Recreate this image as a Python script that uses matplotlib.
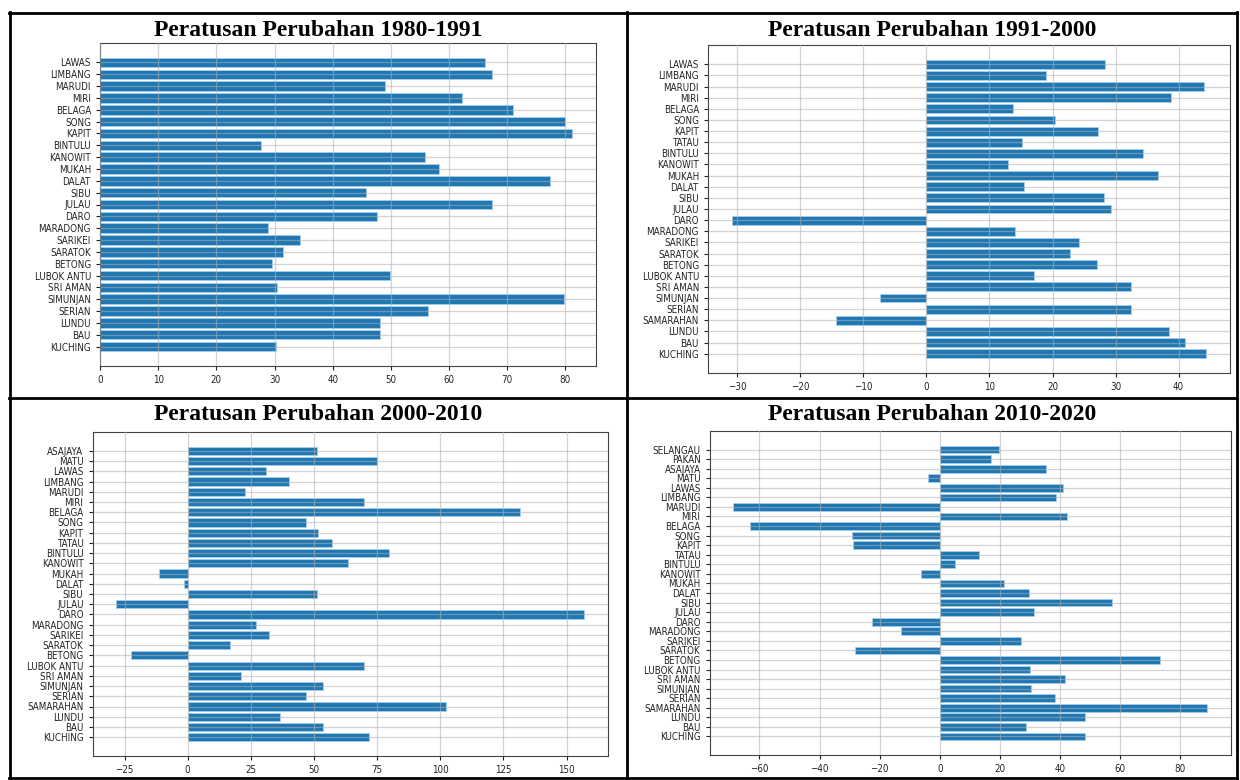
import numpy as np
import matplotlib
matplotlib.use("Agg")
import matplotlib.pyplot as plt
from matplotlib.lines import Line2D
from matplotlib.ticker import MultipleLocator

# data (bottom -> top, as barh draws them)
cat_1980 = ['KUCHING', 'BAU', 'LUNDU', 'SERIAN', 'SIMUNJAN', 'SRI AMAN', 'LUBOK ANTU',
            'BETONG', 'SARATOK', 'SARIKEI', 'MARADONG', 'DARO', 'JULAU', 'SIBU', 'DALAT',
            'MUKAH', 'KANOWIT', 'BINTULU', 'KAPIT', 'SONG', 'BELAGA', 'MIRI', 'MARUDI',
            'LIMBANG', 'LAWAS']
val_1980 = [30.3, 48.1, 48.1, 56.3, 79.8, 30.5, 49.8, 29.5, 31.4, 34.4, 28.8, 47.7, 67.3,
            45.8, 77.3, 58.3, 55.9, 27.6, 81.2, 80.0, 71.0, 62.2, 49.0, 67.3, 66.2]

cat_1991 = ['KUCHING', 'BAU', 'LUNDU', 'SAMARAHAN', 'SERIAN', 'SIMUNJAN', 'SRI AMAN',
            'LUBOK ANTU', 'BETONG', 'SARATOK', 'SARIKEI', 'MARADONG', 'DARO', 'JULAU',
            'SIBU', 'DALAT', 'MUKAH', 'KANOWIT', 'BINTULU', 'TATAU', 'KAPIT', 'SONG',
            'BELAGA', 'MIRI', 'MARUDI', 'LIMBANG', 'LAWAS']
val_1991 = [44.4, 41.1, 38.5, -14.3, 32.5, -7.3, 32.5, 17.1, 27.0, 22.8, 24.2, 14.1, -30.9,
            29.3, 28.1, 15.4, 36.8, 12.9, 34.4, 15.1, 27.2, 20.4, 13.7, 38.8, 44.1, 19.0, 28.4]

cat_2000 = ['KUCHING', 'BAU', 'LUNDU', 'SAMARAHAN', 'SERIAN', 'SIMUNJAN', 'SRI AMAN',
            'LUBOK ANTU', 'BETONG', 'SARATOK', 'SARIKEI', 'MARADONG', 'DARO', 'JULAU',
            'SIBU', 'DALAT', 'MUKAH', 'KANOWIT', 'BINTULU', 'TATAU', 'KAPIT', 'SONG',
            'BELAGA', 'MIRI', 'MARUDI', 'LIMBANG', 'LAWAS', 'MATU', 'ASAJAYA']
val_2000 = [71.8, 53.4, 36.5, 102.3, 46.9, 53.7, 21.0, 69.8, -22.4, 16.7, 32.2, 27.2, 157.0,
            -28.4, 51.0, -1.3, -11.4, 63.5, 79.7, 57.0, 51.6, 46.7, 131.5, 70.0, 22.7, 40.3,
            31.1, 74.8, 51.2]

cat_2010 = ['KUCHING', 'BAU', 'LUNDU', 'SAMARAHAN', 'SERIAN', 'SIMUNJAN', 'SRI AMAN',
            'LUBOK ANTU', 'BETONG', 'SARATOK', 'SARIKEI', 'MARADONG', 'DARO', 'JULAU',
            'SIBU', 'DALAT', 'MUKAH', 'KANOWIT', 'BINTULU', 'TATAU', 'KAPIT', 'SONG',
            'BELAGA', 'MIRI', 'MARUDI', 'LIMBANG', 'LAWAS', 'MATU', 'ASAJAYA', 'PAKAN',
            'SELANGAU']
val_2010 = [48.4, 28.7, 48.3, 89.0, 38.3, 30.3, 41.8, 29.9, 73.2, -28.1, 27.1, -12.9, -22.4,
            31.2, 57.2, 29.6, 21.2, -6.4, 5.2, 12.9, -29.0, -29.2, -63.0, 42.2, -68.7, 38.8,
            40.9, -3.9, 35.3, 17.0, 19.8]

titles = ['Peratusan Perubahan 1980-1991', 'Peratusan Perubahan 1991-2000',
          'Peratusan Perubahan 2000-2010', 'Peratusan Perubahan 2010-2020']

W, H = 1240, 780
fig = plt.figure(figsize=(W / 100, H / 100), dpi=100)


def px_axes(l, t, r, b):
    return fig.add_axes([l / W, 1 - b / H, (r - l) / W, (b - t) / H])


def draw_panel(ax, cats, vals, step):
    ax.barh(cats, vals, color='#1f77b4', edgecolor='#a9cfe8', linewidth=0.6)
    ax.set_axisbelow(False)
    ax.grid(True, color='#b0b0b0', alpha=0.55, linewidth=0.9)
    ax.xaxis.set_major_locator(MultipleLocator(step))
    ax.tick_params(labelsize=7, colors='#222222', length=3)
    for lab in ax.get_yticklabels() + ax.get_xticklabels():
        lab.set_fontstretch('condensed')
    for s in ax.spines.values():
        s.set_color('#444444')


ax1 = px_axes(100, 43, 596, 366)
draw_panel(ax1, cat_1980, val_1980, 10)
ax2 = px_axes(708, 45, 1230, 373)
draw_panel(ax2, cat_1991, val_1991, 10)
ax3 = px_axes(92.5, 432, 607.7, 756)
draw_panel(ax3, cat_2000, val_2000, 25)
ax4 = px_axes(709.6, 431, 1231, 755)
draw_panel(ax4, cat_2010, val_2010, 20)

# titles, centred in each cell
tpos = [(318, 30), (932, 30), (318, 414), (932, 414)]
for (x, y), t in zip(tpos, titles):
    fig.text(x / W, 1 - y / H, t, ha='center', va='center', fontsize=17,
             fontweight='bold', family='Liberation Serif')

# table borders
def hline(y, x0, x1):
    fig.add_artist(Line2D([x0 / W, x1 / W], [1 - y / H, 1 - y / H], color='black', lw=2))

def vline(x, y0, y1):
    fig.add_artist(Line2D([x / W, x / W], [1 - y0 / H, 1 - y1 / H], color='black', lw=2))

hline(13, 9, 1237)
hline(398.5, 9, 1237)
hline(778, 9, 1237)
vline(10, 12, 779)
vline(627, 12, 779)
vline(1236.5, 12, 779)

fig.savefig('out.png', dpi=100)
